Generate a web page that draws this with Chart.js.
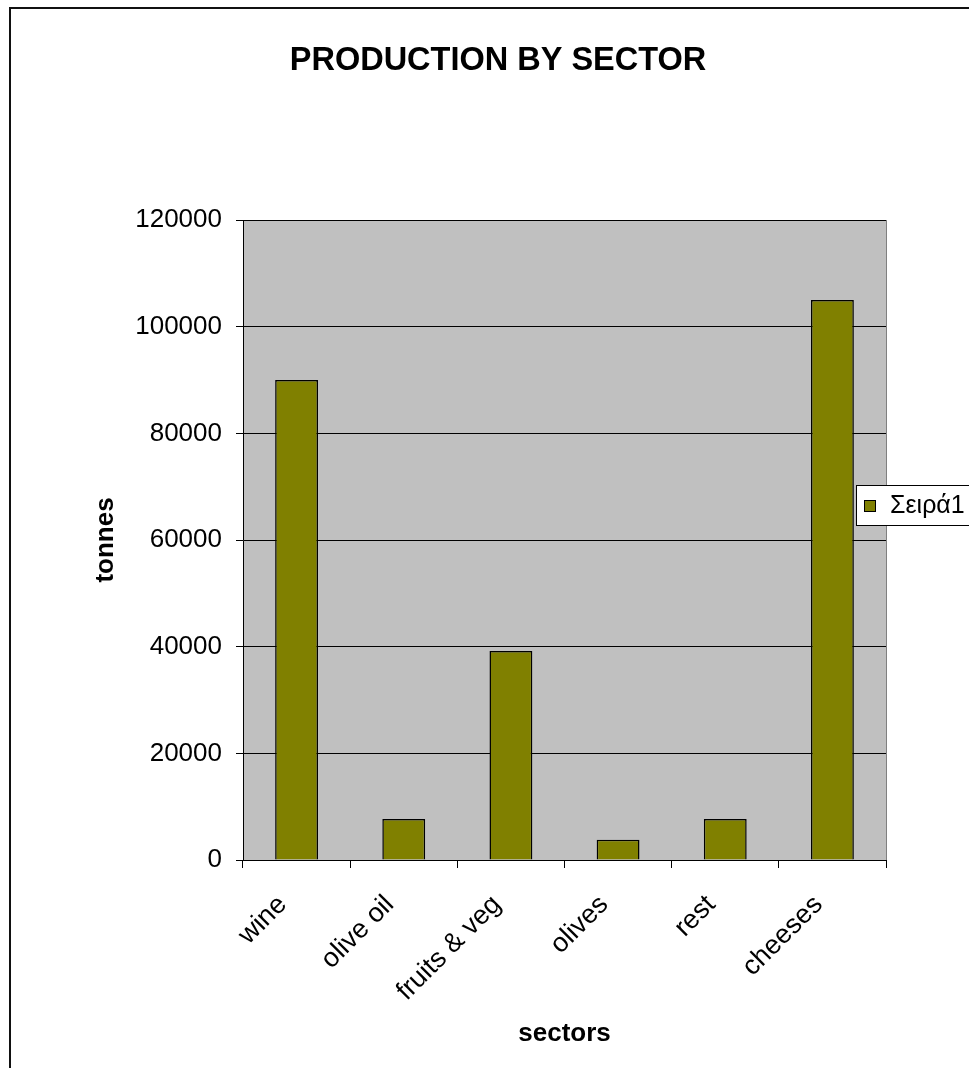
<!DOCTYPE html>
<html>
<head>
<meta charset="utf-8">
<script src="https://cdn.jsdelivr.net/npm/chart.js@4.4.0/dist/chart.umd.min.js"></script>
<style>
  html, body { margin: 0; padding: 0; background: #fff; overflow: hidden; }
  #wrap { position: relative; width: 969px; height: 1068px; }
  #frame { position: absolute; left: 9px; top: 7px; width: 1100px; height: 1200px; border: 2px solid #111; box-sizing: border-box; }
  canvas { position: absolute; left: 0; top: 0; }
</style>
</head>
<body>
<div id="wrap">
  <div id="frame"></div>
  <canvas id="chart" width="969" height="1068"></canvas>
</div>
<script>
// data
const sectors = ['wine', 'olive oil', 'fruits & veg', 'olives', 'rest', 'cheeses'];
const tonnes = [90000, 7700, 39200, 3800, 7700, 105000];
const yTicks = [0, 20000, 40000, 60000, 80000, 100000, 120000];
const seriesName = 'Σειρά1';

Chart.defaults.font.family = "'Liberation Sans', Arial, sans-serif";
Chart.defaults.color = '#000';

// grey plot area with a grey frame on top/right
const plotBackground = {
  id: 'plotBackground',
  beforeDraw(chart) {
    const { ctx, chartArea: a } = chart;
    ctx.save();
    ctx.fillStyle = '#c0c0c0';
    ctx.fillRect(a.left, a.top, a.right - a.left, a.bottom - a.top);
    ctx.strokeStyle = '#808080';
    ctx.lineWidth = 1;
    ctx.strokeRect(a.left + 0.5, a.top + 0.5, a.right - a.left, a.bottom - a.top);
    ctx.restore();
  }
};

// Excel style legend box sitting over the right edge
const sideLegend = {
  id: 'sideLegend',
  afterDraw(chart) {
    const ctx = chart.ctx;
    const ds = chart.data.datasets[0];
    const x = 856, y = 485;
    ctx.save();
    ctx.fillStyle = '#fff';
    ctx.fillRect(x, y, 200, 40);
    ctx.strokeStyle = '#000';
    ctx.lineWidth = 1;
    ctx.strokeRect(x + 0.5, y + 0.5, 200, 40);
    ctx.fillStyle = ds.backgroundColor;
    ctx.fillRect(x + 8, y + 15, 11, 11);
    ctx.strokeRect(x + 8.5, y + 15.5, 11, 11);
    ctx.fillStyle = '#000';
    ctx.font = "25px 'Liberation Sans', Arial, sans-serif";
    ctx.textBaseline = 'middle';
    ctx.fillText(ds.label, x + 34, y + 21);
    ctx.restore();
  }
};

new Chart(document.getElementById('chart'), {
  type: 'bar',
  data: {
    labels: sectors,
    datasets: [{
      label: seriesName,
      data: tonnes,
      backgroundColor: '#808000',
      borderColor: '#000',
      borderWidth: 1.5,
      barPercentage: 0.4,
      categoryPercentage: 1
    }]
  },
  options: {
    responsive: false,
    animation: false,
    layout: { padding: { left: 110, right: 83, top: 0, bottom: 15 } },
    plugins: {
      legend: { display: false },
      tooltip: { enabled: false },
      title: {
        display: true,
        text: 'PRODUCTION BY SECTOR',
        font: { size: 32.5, weight: 'bold' },
        padding: { top: 42, bottom: 139 }
      }
    },
    scales: {
      x: {
        grid: { drawOnChartArea: false, color: '#000', tickLength: 8 },
        border: { color: '#000', width: 1 },
        ticks: { font: { size: 27 }, minRotation: 45, maxRotation: 45, padding: 21, labelOffset: -14 },
        title: { display: true, text: 'sectors', font: { size: 26, weight: 'bold' } },
        afterFit(scale) { scale.height = 193; }
      },
      y: {
        min: 0,
        max: 120000,
        afterBuildTicks(scale) { scale.ticks = yTicks.map(v => ({ value: v })); },
        grid: { color: '#000', tickLength: 7 },
        border: { color: '#000', width: 1 },
        ticks: { font: { size: 26 }, padding: 14, callback: v => String(v) },
        title: { display: true, text: 'tonnes', font: { size: 26, weight: 'bold' }, padding: { top: -20, bottom: 4 } },
        afterFit(scale) { scale.width = 133; }
      }
    }
  },
  plugins: [plotBackground, sideLegend]
});
</script>
</body>
</html>
